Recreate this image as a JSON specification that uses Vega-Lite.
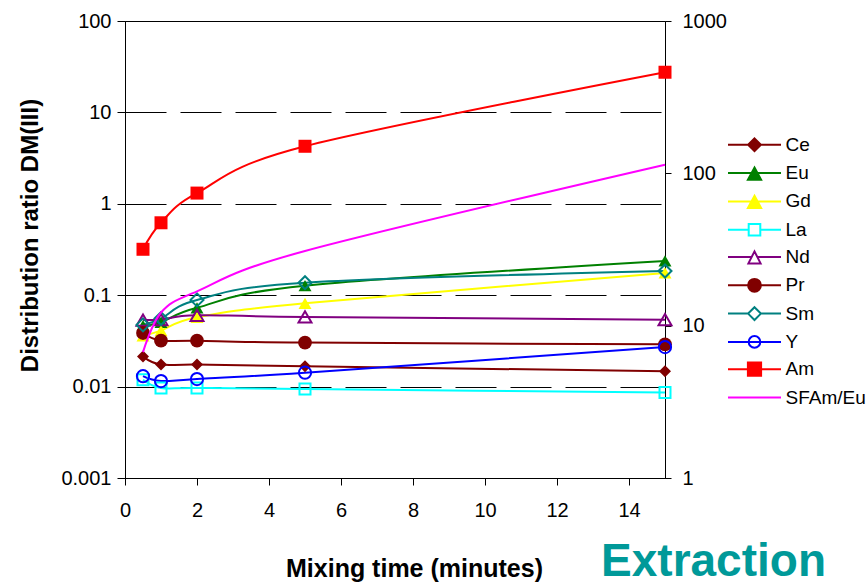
{
  "$schema": "https://vega.github.io/schema/vega-lite/v6.json",
  "width": 540,
  "height": 457,
  "autosize": {"type": "none"},
  "padding": {"left": 125, "top": 21, "right": 203, "bottom": 107},
  "background": "white",
  "config": {
    "font": "Liberation Sans",
    "view": {"stroke": "black", "strokeWidth": 1},
    "axis": {"labelColor": "black", "tickColor": "black", "domainColor": "black", "titleColor": "black", "labelFont": "Liberation Sans", "titleFont": "Liberation Sans"},
    "legend": {
      "title": null, "orient": "none", "direction": "vertical", "legendX": 602, "legendY": 112.8, "padding": 0,
      "symbolSize": 400, "symbolStrokeWidth": 2, "symbolOpacity": 1, "symbolOffset": 16.5,
      "labelFontSize": 19, "labelColor": "black", "labelFont": "Liberation Sans",
      "labelOffset": 20, "rowPadding": 6.3, "labelLimit": 200
    }
  },
  "title": {
    "text": "Extraction",
    "orient": "bottom",
    "anchor": "end",
    "frame": "group",
    "baseline": "alphabetic",
    "offset": -5,
    "dx": 161,
    "font": "Liberation Sans",
    "fontSize": 46,
    "fontWeight": "bold",
    "color": "#009999"
  },
  "data": {
    "values": [
      {"series": "Ce", "t": 0.5, "d": 0.0213},
      {"series": "Ce", "t": 1, "d": 0.0174},
      {"series": "Ce", "t": 2, "d": 0.0174},
      {"series": "Ce", "t": 5, "d": 0.0167},
      {"series": "Ce", "t": 15, "d": 0.0147},
      {"series": "Eu", "t": 0.5, "d": 0.0465},
      {"series": "Eu", "t": 1, "d": 0.0505},
      {"series": "Eu", "t": 2, "d": 0.0728},
      {"series": "Eu", "t": 5, "d": 0.127},
      {"series": "Eu", "t": 15, "d": 0.237},
      {"series": "Gd", "t": 0.5, "d": 0.036},
      {"series": "Gd", "t": 1, "d": 0.041},
      {"series": "Gd", "t": 2, "d": 0.0573},
      {"series": "Gd", "t": 5, "d": 0.0815},
      {"series": "Gd", "t": 15, "d": 0.175},
      {"series": "La", "t": 0.5, "d": 0.0119},
      {"series": "La", "t": 1, "d": 0.00966},
      {"series": "La", "t": 2, "d": 0.00966},
      {"series": "La", "t": 5, "d": 0.0094},
      {"series": "La", "t": 15, "d": 0.0086},
      {"series": "Nd", "t": 0.5, "d": 0.0535},
      {"series": "Nd", "t": 1, "d": 0.0542},
      {"series": "Nd", "t": 2, "d": 0.0603},
      {"series": "Nd", "t": 5, "d": 0.0578},
      {"series": "Nd", "t": 15, "d": 0.054},
      {"series": "Pr", "t": 0.5, "d": 0.0386},
      {"series": "Pr", "t": 1, "d": 0.0318},
      {"series": "Pr", "t": 2, "d": 0.0318},
      {"series": "Pr", "t": 5, "d": 0.0303},
      {"series": "Pr", "t": 15, "d": 0.029},
      {"series": "Sm", "t": 0.5, "d": 0.0473},
      {"series": "Sm", "t": 1, "d": 0.0555},
      {"series": "Sm", "t": 2, "d": 0.0887},
      {"series": "Sm", "t": 5, "d": 0.137},
      {"series": "Sm", "t": 15, "d": 0.184},
      {"series": "Y", "t": 0.5, "d": 0.013},
      {"series": "Y", "t": 1, "d": 0.0115},
      {"series": "Y", "t": 2, "d": 0.0121},
      {"series": "Y", "t": 5, "d": 0.0142},
      {"series": "Y", "t": 15, "d": 0.0271},
      {"series": "Am", "t": 0.5, "d": 0.318},
      {"series": "Am", "t": 1, "d": 0.62},
      {"series": "Am", "t": 2, "d": 1.31},
      {"series": "Am", "t": 5, "d": 4.26},
      {"series": "Am", "t": 15, "d": 27.5},
      {"series": "SFAm/Eu", "t": 0.5, "d": 6.7},
      {"series": "SFAm/Eu", "t": 1, "d": 12.2},
      {"series": "SFAm/Eu", "t": 2, "d": 16.8},
      {"series": "SFAm/Eu", "t": 5, "d": 30.9},
      {"series": "SFAm/Eu", "t": 15, "d": 114}
    ]
  },
  "layer": [
    {
      "transform": [{"filter": "datum.series == 'none'"}],
      "mark": {"type": "point", "filled": false, "opacity": 1, "strokeWidth": 2},
      "encoding": {
        "color": {
          "field": "series", "type": "nominal",
          "scale": {
            "domain": ["Ce", "Eu", "Gd", "La", "Nd", "Pr", "Sm", "Y", "Am", "SFAm/Eu"],
            "range": ["#800000", "#008000", "#FFFF00", "#00FFFF", "#800080", "#800000", "#008080", "#0000FF", "#FF0000", "#FF00FF"]
          }
        },
        "fill": {
          "field": "series", "type": "nominal",
          "scale": {
            "domain": ["Ce", "Eu", "Gd", "La", "Nd", "Pr", "Sm", "Y", "Am", "SFAm/Eu"],
            "range": ["#800000", "#008000", "#FFFF00", "transparent", "transparent", "#800000", "transparent", "transparent", "#FF0000", "transparent"]
          }
        },
        "shape": {
          "field": "series", "type": "nominal",
          "scale": {
            "domain": ["Ce", "Eu", "Gd", "La", "Nd", "Pr", "Sm", "Y", "Am", "SFAm/Eu"],
            "range": [
              "M-2.65,0H2.65M0,-0.64L0.64,0L0,0.64L-0.64,0Z",
              "M-2.65,0H2.65M0,-0.56L0.66,0.66L-0.66,0.66Z",
              "M-2.65,0H2.65M0,-0.56L0.66,0.66L-0.66,0.66Z",
              "M-2.65,0H-0.58M0.58,0H2.65M-0.58,-0.58H0.58V0.58H-0.58Z",
              "M-2.65,0H-0.285M0.285,0H2.65M0,-0.56L0.61,0.64L-0.61,0.64Z",
              "M-2.65,0H2.65M0.64,0A0.64,0.64,0,1,1,-0.64,0A0.64,0.64,0,1,1,0.64,0Z",
              "M-2.65,0H-0.64M0.64,0H2.65M0,-0.64L0.64,0L0,0.64L-0.64,0Z",
              "M-2.65,0H2.65M0.58,0A0.58,0.58,0,1,1,-0.58,0A0.58,0.58,0,1,1,0.58,0Z",
              "M-2.65,0H2.65M-0.66,-0.66H0.66V0.66H-0.66Z",
              "M-2.65,0H2.65"
            ]
          }
        }
      }
    },
    {
      "encoding": {
        "x": {
          "field": "t", "type": "quantitative",
          "scale": {"domain": [0, 15], "nice": false, "zero": false},
          "axis": {
            "values": [0, 2, 4, 6, 8, 10, 12, 14],
            "labelFontSize": 20, "labelFlush": false, "labelPadding": 15, "tickSize": 7, "grid": false,
            "title": "Mixing time (minutes)", "titleFontSize": 25, "titleFontWeight": "bold",
            "titleX": 289, "titleY": 98, "titleBaseline": "alphabetic", "titleAlign": "center"
          }
        },
        "y": {
          "field": "d", "type": "quantitative",
          "scale": {"type": "log", "domain": [0.001, 100], "nice": false},
          "axis": {
            "values": [0.001, 0.01, 0.1, 1, 10, 100], "format": "~g",
            "labelFontSize": 20, "labelPadding": 6, "tickSize": 8,
            "grid": true, "gridColor": "black", "gridDash": [41, 14], "gridOpacity": 1, "gridWidth": 1,
            "title": "Distribution ratio DM(III)", "titleFontSize": 24, "titleFontWeight": "bold",
            "titleX": -95, "titleY": 214, "titleAlign": "center", "titleBaseline": "middle"
          }
        }
      },
      "layer": [
        {
          "transform": [{"filter": "datum.series != 'SFAm/Eu'"}],
          "mark": {"type": "line", "strokeWidth": 2, "interpolate": "cardinal"},
          "encoding": {
            "stroke": {
              "field": "series", "type": "nominal", "legend": null,
              "scale": {
                "domain": ["Ce", "Eu", "Gd", "La", "Nd", "Pr", "Sm", "Y", "Am"],
                "range": ["#800000", "#008000", "#FFFF00", "#00FFFF", "#800080", "#800000", "#008080", "#0000FF", "#FF0000"]
              }
            }
          }
        },
        {
          "transform": [{"filter": "datum.series == 'Ce'"}],
          "mark": {"type": "point", "shape": "diamond", "filled": true, "size": 144, "opacity": 1, "color": "#800000"}
        },
        {
          "transform": [{"filter": "datum.series == 'Eu'"}],
          "mark": {"type": "point", "shape": "triangle-up", "filled": true, "size": 169, "opacity": 1, "color": "#008000"}
        },
        {
          "transform": [{"filter": "datum.series == 'Gd'"}],
          "mark": {"type": "point", "shape": "triangle-up", "filled": true, "size": 169, "opacity": 1, "color": "#FFFF00"}
        },
        {
          "transform": [{"filter": "datum.series == 'La'"}],
          "mark": {"type": "point", "shape": "square", "filled": false, "size": 121, "strokeWidth": 2, "opacity": 1, "color": "#00FFFF"}
        },
        {
          "transform": [{"filter": "datum.series == 'Nd'"}],
          "mark": {"type": "point", "shape": "triangle-up", "filled": false, "size": 169, "strokeWidth": 2, "opacity": 1, "color": "#800080"}
        },
        {
          "transform": [{"filter": "datum.series == 'Pr'"}],
          "mark": {"type": "point", "shape": "circle", "filled": true, "size": 190, "opacity": 1, "color": "#800000"}
        },
        {
          "transform": [{"filter": "datum.series == 'Sm'"}],
          "mark": {"type": "point", "shape": "diamond", "filled": false, "size": 169, "strokeWidth": 2, "opacity": 1, "color": "#008080"}
        },
        {
          "transform": [{"filter": "datum.series == 'Y'"}],
          "mark": {"type": "point", "shape": "circle", "filled": false, "size": 150, "strokeWidth": 2, "opacity": 1, "color": "#0000FF"}
        },
        {
          "transform": [{"filter": "datum.series == 'Am'"}],
          "mark": {"type": "point", "shape": "square", "filled": true, "size": 169, "opacity": 1, "color": "#FF0000"}
        }
      ]
    },
    {
      "transform": [{"filter": "datum.series == 'SFAm/Eu'"}],
      "mark": {"type": "line", "strokeWidth": 2, "interpolate": "cardinal", "color": "#FF00FF"},
      "encoding": {
        "x": {
          "field": "t", "type": "quantitative",
          "scale": {"domain": [0, 15], "nice": false, "zero": false},
          "axis": {
            "values": [0, 2, 4, 6, 8, 10, 12, 14],
            "labelFontSize": 20, "labelFlush": false, "labelPadding": 15, "tickSize": 7, "grid": false,
            "title": "Mixing time (minutes)", "titleFontSize": 25, "titleFontWeight": "bold",
            "titleX": 289, "titleY": 98, "titleBaseline": "alphabetic", "titleAlign": "center"
          }
        },
        "y": {
          "field": "d", "type": "quantitative",
          "scale": {"type": "log", "domain": [1, 1000], "nice": false},
          "axis": {
            "orient": "right", "values": [1, 10, 100, 1000], "format": "~g", "title": null,
            "labelFontSize": 20, "labelPadding": 11, "tickSize": 6, "grid": false
          }
        }
      }
    }
  ],
  "resolve": {"scale": {"y": "independent"}}
}
